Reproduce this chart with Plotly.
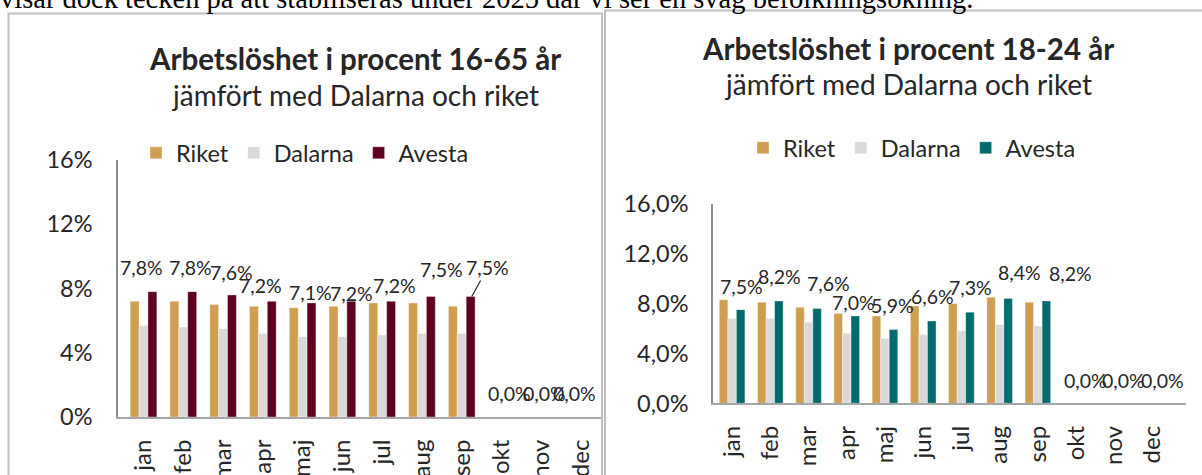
import plotly.graph_objects as go

# ---------------- data ----------------
months = ["jan", "feb", "mar", "apr", "maj", "jun", "jul", "aug", "sep", "okt", "nov", "dec"]
series_names = ["Riket", "Dalarna", "Avesta"]

riket_16_65 = [7.2, 7.2, 7.0, 6.9, 6.8, 6.9, 7.1, 7.1, 6.9, None, None, None]
dalarna_16_65 = [5.7, 5.6, 5.5, 5.2, 5.0, 5.0, 5.1, 5.2, 5.2, None, None, None]
avesta_16_65 = [7.8, 7.8, 7.6, 7.2, 7.1, 7.2, 7.2, 7.5, 7.5, 0.0, 0.0, 0.0]

riket_18_24 = [8.3, 8.1, 7.7, 7.2, 7.0, 7.8, 8.0, 8.5, 8.1, None, None, None]
dalarna_18_24 = [6.8, 6.8, 6.5, 5.6, 5.2, 5.5, 5.8, 6.3, 6.2, None, None, None]
avesta_18_24 = [7.5, 8.2, 7.6, 7.0, 5.9, 6.6, 7.3, 8.4, 8.2, 0.0, 0.0, 0.0]

y_ticks = [0, 4, 8, 12, 16]
y_ticktext_left = ["0%", "4%", "8%", "12%", "16%"]
y_ticktext_right = ["0,0%", "4,0%", "8,0%", "12,0%", "16,0%"]

title_left = "Arbetslöshet i procent 16-65 år"
title_right = "Arbetslöshet i procent 18-24 år"
subtitle = "jämfört med Dalarna och riket"
top_text = "visar dock tecken på att stabiliseras under 2025 där vi ser en svag befolkningsökning."

# ---------------- style ----------------
W, H = 1202, 475
FONT = "Lato"
TXT = "#262626"
C_RIKET = "#D09E50"
C_DAL = "#D9D9D9"
C_AV_L = "#5E0120"
C_AV_R = "#006B6E"

# label pixel offsets (from category centre / from value point)
lab_dx_left = [-2, 7, 8, -2, 8, 9, 12, 20, 26, 8, 3, -7]
lab_dy_left = [24, 24, 22, 16, 10, 8, 16, 27, 29, 24, 24, 24]
lab_dx_right = [9, 9, 20, 7, 8, 9, 9, 20, 33, 9, 9, 10]
lab_dy_right = [23, 24, 25, 13, 24, 24, 25, 26, 27, 23, 23, 23]


def px(x):
    return x / W


def py(y):
    return (H - y) / H


def fmt(v):
    return f"{v:.1f}".replace(".", ",") + "%"


fig = go.Figure()

sets = [
    ("x", "y", "legend", [riket_16_65, dalarna_16_65, avesta_16_65], [C_RIKET, C_DAL, C_AV_L]),
    ("x2", "y2", "legend2", [riket_18_24, dalarna_18_24, avesta_18_24], [C_RIKET, C_DAL, C_AV_R]),
]
for xa, ya, leg, vals, cols in sets:
    for name, v, c in zip(series_names, vals, cols):
        fig.add_trace(go.Bar(
            x=months, y=v, name=name, xaxis=xa, yaxis=ya, legend=leg,
            marker=dict(color=c, line=dict(color="rgba(255,255,255,0.6)", width=0.6)),
            hoverinfo="skip",
        ))

# data labels (Avesta)
for xref, yref, vals, dxs, dys in [("x", "y", avesta_16_65, lab_dx_left, lab_dy_left),
                                   ("x2", "y2", avesta_18_24, lab_dx_right, lab_dy_right)]:
    for i, (m, v) in enumerate(zip(months, vals)):
        if xref == "x" and m == "sep":
            continue
        fig.add_annotation(x=m, y=v, xref=xref, yref=yref, text=fmt(v), showarrow=False,
                           xshift=dxs[i], yshift=dys[i], xanchor="center", yanchor="middle",
                           font=dict(family=FONT, size=19.5, color=TXT))

# sep label with leader line (left chart)
i_sep = months.index("sep")
fig.add_annotation(x="sep", y=avesta_16_65[i_sep], xref="x", yref="y", text=fmt(avesta_16_65[i_sep]),
                   showarrow=True, arrowhead=0, arrowwidth=1.2, arrowcolor=TXT, standoff=0,
                   ax=16, ay=-29, xshift=10, font=dict(family=FONT, size=19.5, color=TXT))

# titles
for cx, ty, sy, t in [(355, 59, 95, title_left), (908, 48, 84, title_right)]:
    fig.add_annotation(x=px(cx), y=py(ty), xref="paper", yref="paper", text=f"<b>{t}</b>",
                       showarrow=False, xanchor="center", yanchor="middle",
                       font=dict(family=FONT, size=29.5, color=TXT))
    fig.add_annotation(x=px(cx), y=py(sy), xref="paper", yref="paper", text=subtitle,
                       showarrow=False, xanchor="center", yanchor="middle",
                       font=dict(family=FONT, size=28, color=TXT))

# top (cut) body text
fig.add_annotation(x=px(-2), y=py(-2), xref="paper", yref="paper", text=top_text, showarrow=False,
                   xanchor="left", yanchor="middle",
                   font=dict(family="Liberation Serif", size=28.5, color="#000000"))

# chart frames
for x0, x1, y0 in [(8.5, 602, 13.5), (605, 1212, 10.5)]:
    fig.add_shape(type="rect", xref="paper", yref="paper", x0=px(x0), x1=px(x1), y0=py(y0), y1=py(500),
                  line=dict(color="#C0C0C0", width=2), fillcolor="rgba(0,0,0,0)", layer="below")

xcommon = dict(type="category", showgrid=False, showline=True, linecolor="#A6A6A6", linewidth=2,
               tickangle=-90, ticks="", ticklabelstandoff=11, automargin=False,
               tickfont=dict(family=FONT, size=24, color=TXT), fixedrange=True)
ycommon = dict(showgrid=False, zeroline=False, showline=True, linecolor="#8C8C8C", linewidth=1.5,
               range=[0, 16], tickmode="array", tickvals=y_ticks, ticks="", ticklabelstandoff=19,
               automargin=False, tickfont=dict(family=FONT, size=23.5, color=TXT), fixedrange=True)

fig.update_layout(
    width=W, height=H, margin=dict(l=0, r=0, t=0, b=0, autoexpand=False),
    paper_bgcolor="white", plot_bgcolor="white",
    barmode="group", bargap=0.33, bargroupgap=0,
    xaxis=dict(xcommon, domain=[px(118), px(601)], anchor="y"),
    yaxis=dict(ycommon, domain=[py(417), py(160)], anchor="x", ticktext=y_ticktext_left),
    xaxis2=dict(xcommon, domain=[px(713), px(1186)], anchor="y2"),
    yaxis2=dict(ycommon, domain=[py(403.3), py(203.5)], anchor="x2", ticktext=y_ticktext_right,
                ticklabelstandoff=18),
    legend=dict(orientation="h", x=px(136), y=py(153), xanchor="left", yanchor="middle",
                font=dict(family=FONT, size=23.5, color=TXT), bgcolor="rgba(0,0,0,0)", itemwidth=30,
                traceorder="normal"),
    legend2=dict(orientation="h", x=px(743), y=py(148), xanchor="left", yanchor="middle",
                 font=dict(family=FONT, size=23.5, color=TXT), bgcolor="rgba(0,0,0,0)", itemwidth=30,
                 traceorder="normal"),
    showlegend=True,
)

fig.write_html("out.html", config={"displayModeBar": False},
               post_script="document.body.style.margin='0px';document.body.style.overflow='hidden';")
